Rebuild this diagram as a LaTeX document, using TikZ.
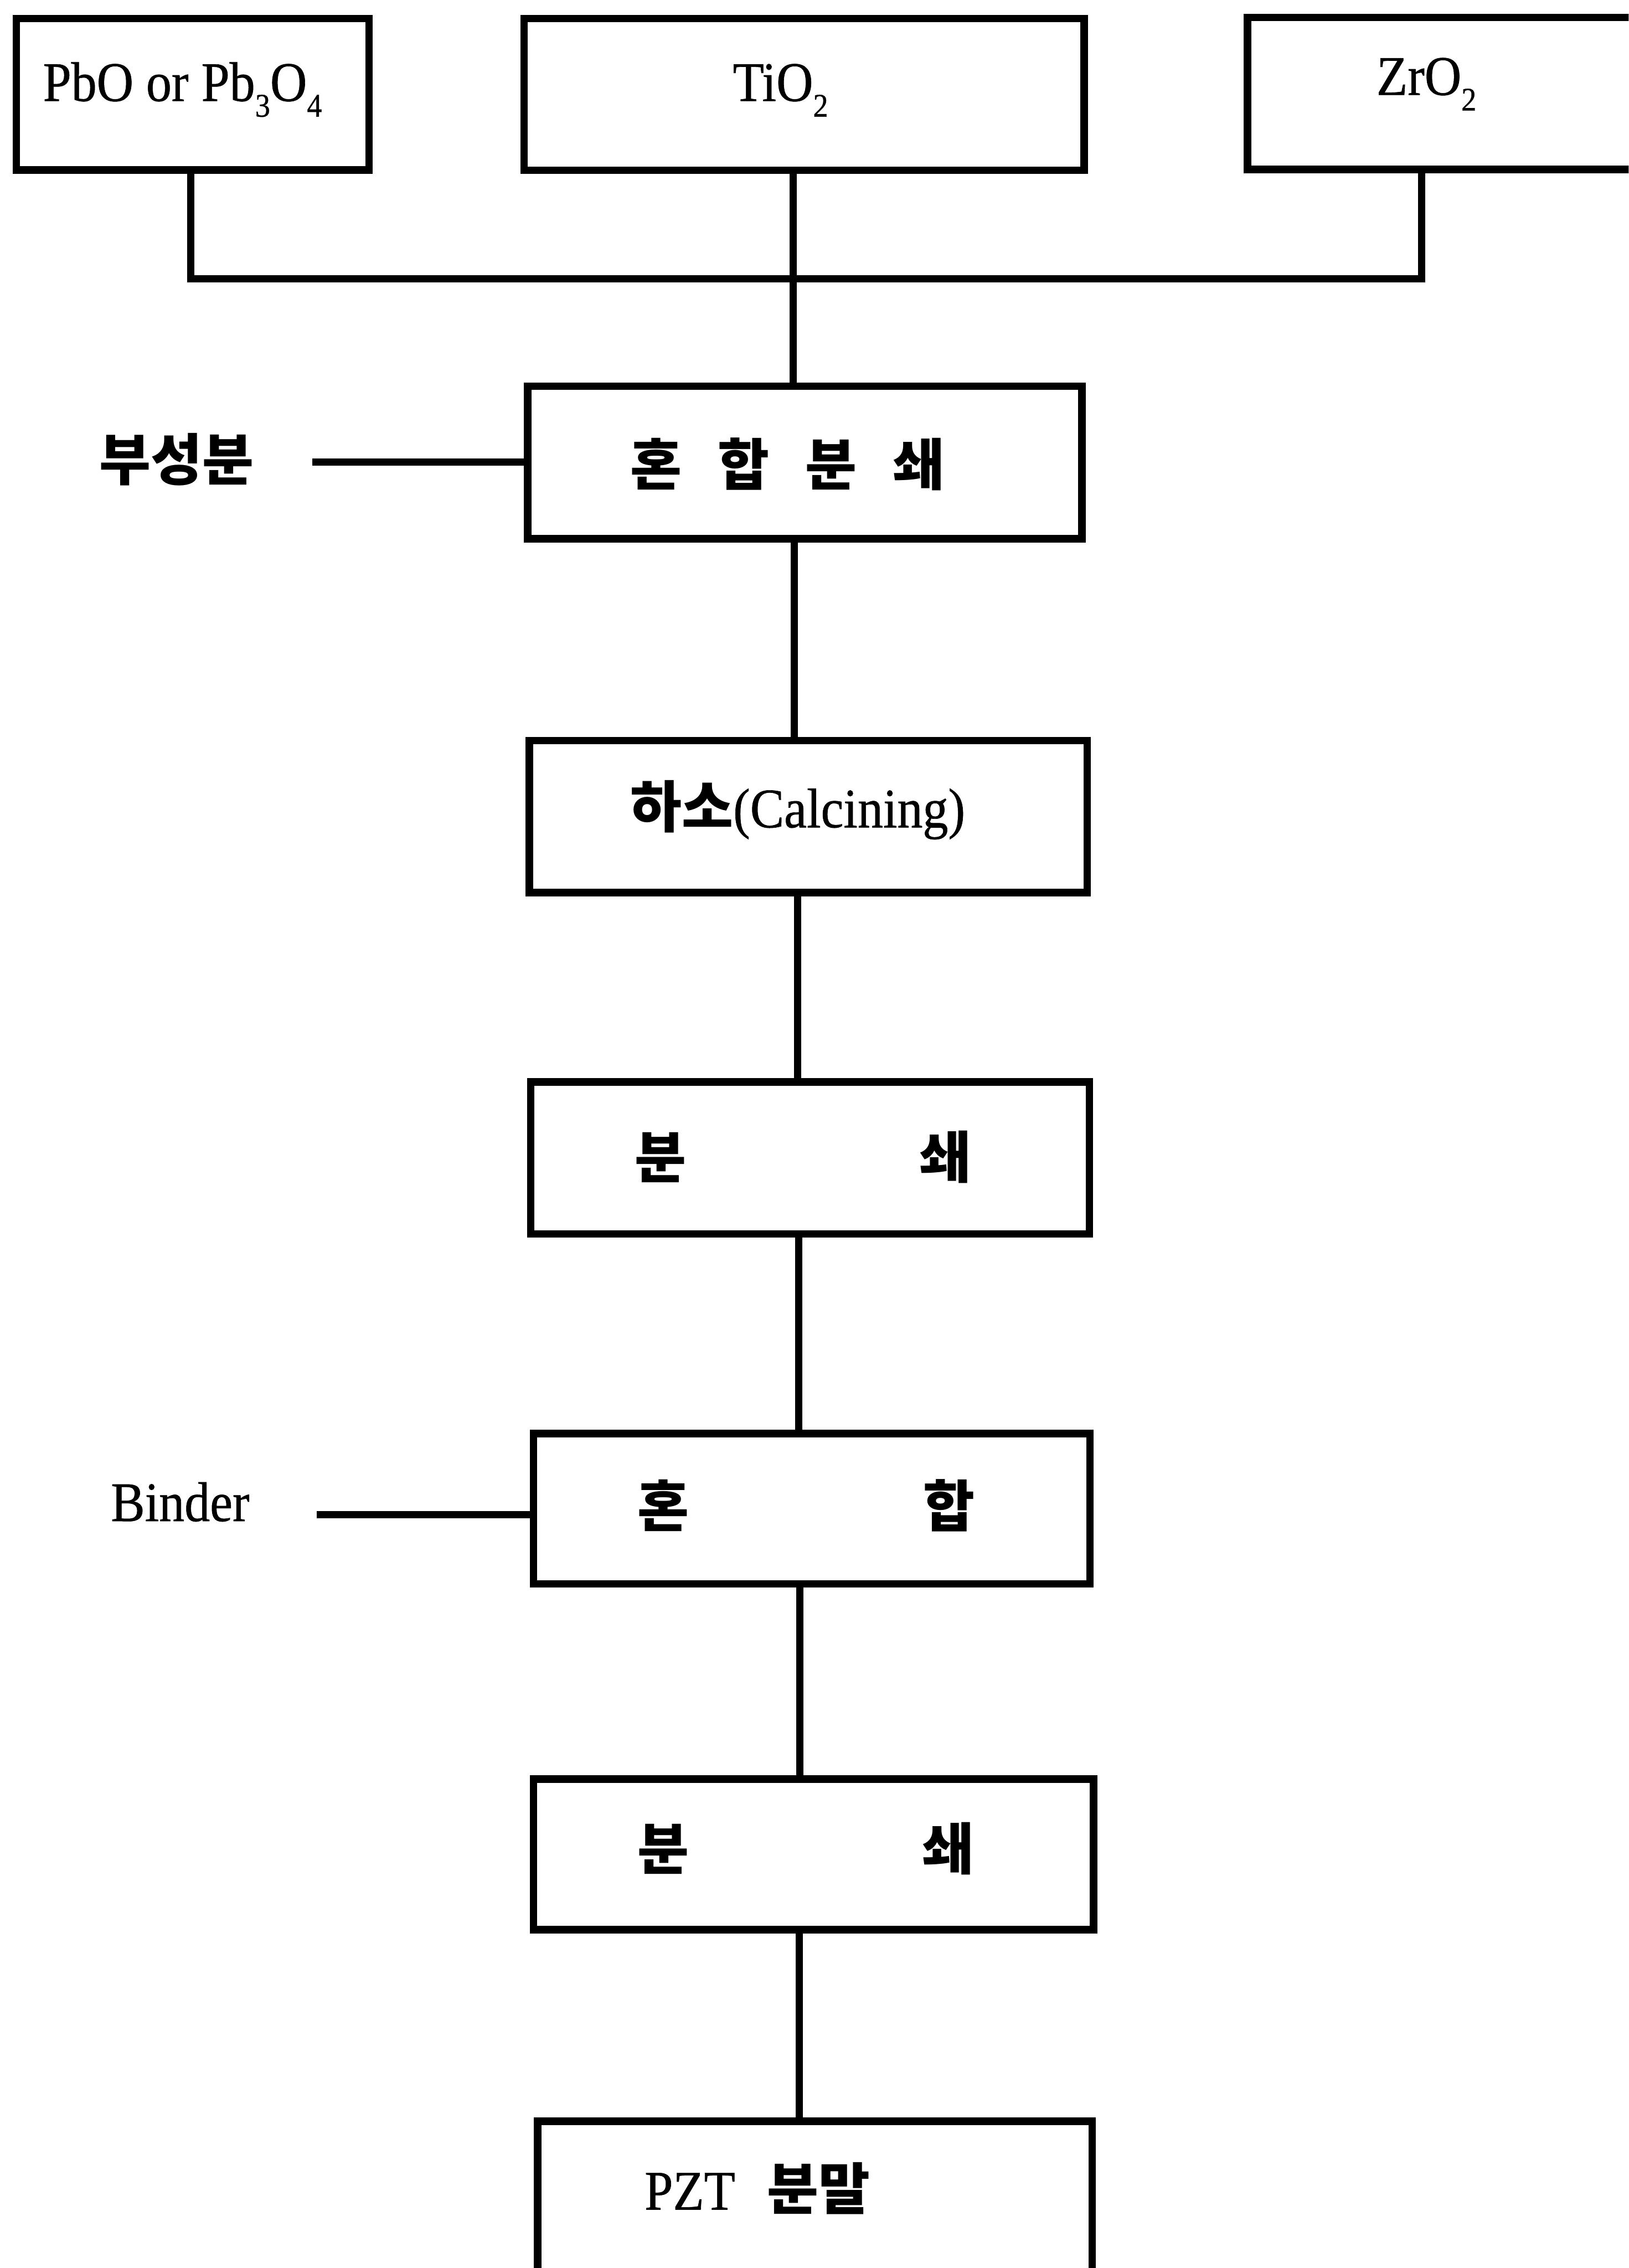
\documentclass[tikz,border=0pt]{standalone}
\usepackage{fontspec}
\setmainfont{Liberation Serif}[FakeStretch=0.91, FakeBold=0.6]
\newfontfamily\kr{Noto Sans CJK KR}
\newcommand{\chemsub}[1]{\raisebox{-0.28em}{\fontsize{6.5}{7}\selectfont #1}}

\tikzset{
  box/.style={draw, line width=0.052cm, inner sep=0pt},
  link/.style={line width=0.05cm},
  txt/.style={inner sep=0pt, font=\fontsize{11}{13}\selectfont},
  krtxt/.style={inner sep=0pt, font=\kr\bfseries\fontsize{11}{13}\selectfont},
}

\begin{document}
\begin{tikzpicture}[x=0.01cm, y=-0.01cm]
  % page frame
  \useasboundingbox (0,0) rectangle (1126,1568);
  \fill[white] (0,0) rectangle (1126,1568);
  \clip (0,0) rectangle (1126,1568);

  % raw materials
  \node[box, minimum width=2.436cm, minimum height=1.046cm] (pbo) at (133.2,65.1) {};
  \node[box, minimum width=3.87cm,  minimum height=1.048cm] (tio) at (556,65.3) {};
  \node[box, minimum width=2.974cm, minimum height=1.05cm]  (zro) at (1011.3,64.6) {};

  % process steps
  \node[box, minimum width=3.83cm,  minimum height=1.055cm] (mix1)  at (556.5,319.75) {};
  \node[box, minimum width=3.855cm, minimum height=1.05cm]  (calc)  at (558.75,564.5) {};
  \node[box, minimum width=3.86cm,  minimum height=1.05cm]  (mill1) at (560,800.5) {};
  \node[box, minimum width=3.845cm, minimum height=1.04cm]  (mix2)  at (561.25,1043) {};
  \node[box, minimum width=3.87cm,  minimum height=1.04cm]  (mill2) at (562.5,1282) {};
  \node[box, minimum width=3.833cm, minimum height=1.045cm] (pzt)   at (563.4,1518.75) {};

  % box texts
  \node[txt, anchor=base west] (pbo-t) at (29,69.8) {PbO or Pb\chemsub{3}O\chemsub{4}};
  \node[txt, anchor=base west] (tio-t) at (506,69.8) {TiO\chemsub{2}};
  \node[txt, anchor=base west] (zro-t) at (951,65.6) {ZrO\chemsub{2}};
  \node[krtxt] (mix1-t) at (544.5,321) {\makebox[2.17cm][s]{혼\hfill 합\hfill 분\hfill 쇄}};
  \node[txt, anchor=base] (calc-t) at (551.5,572) {{\kr\bfseries 하소}(Calcining)};
  \node[krtxt] (mill1-t) at (555,800) {\makebox[2.32cm][s]{분\hfill 쇄}};
  \node[krtxt] (mix2-t) at (557.5,1041) {\makebox[2.33cm][s]{혼\hfill 합}};
  \node[krtxt] (mill2-t) at (557,1278) {\makebox[2.32cm][s]{분\hfill 쇄}};
  \node[txt, anchor=base west] (pzt-t) at (445,1527.6) {PZT\hspace{0.22cm}{\kr\bfseries 분말}};

  % side inputs
  \node[krtxt] (sub-t) at (122,317.5) {부성분};
  \node[txt, anchor=base west] (binder-t) at (76,1051.6) {Binder};

  % connector guide points
  \coordinate (busL) at (132,192.8);
  \coordinate (busR) at (983,192.8);
  \coordinate (sp1) at (548.5,0);
  \coordinate (sp2) at (549.3,0);
  \coordinate (sp3) at (551.3,0);
  \coordinate (sp4) at (552.2,0);
  \coordinate (sp5) at (553,0);
  \coordinate (sp6) at (552.5,0);
  \coordinate (subin) at (216,319.5);
  \coordinate (binin) at (219,1047);

  % collecting bus
  \draw[link] (pbo.south -| busL) -- (busL) -- (busR) -- (zro.south -| busR);

  % main flow
  \draw[link] (tio.south -| sp1)   -- (mix1.north -| sp1);
  \draw[link] (mix1.south -| sp2)  -- (calc.north -| sp2);
  \draw[link] (calc.south -| sp3)  -- (mill1.north -| sp3);
  \draw[link] (mill1.south -| sp4) -- (mix2.north -| sp4);
  \draw[link] (mix2.south -| sp5)  -- (mill2.north -| sp5);
  \draw[link] (mill2.south -| sp6) -- (pzt.north -| sp6);

  % additions
  \draw[link] (subin) -- (mix1.west |- subin);
  \draw[link] (binin) -- (mix2.west |- binin);
\end{tikzpicture}
\end{document}
